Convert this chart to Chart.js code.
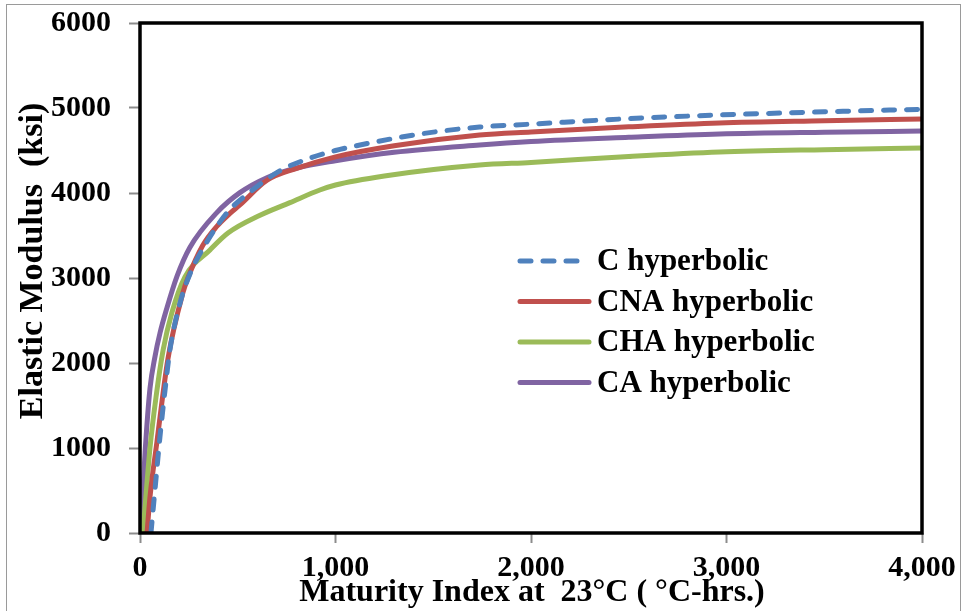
<!DOCTYPE html>
<html lang="en">
<head>
    <meta charset="UTF-8" />
    <title>Elastic Modulus vs Maturity Index</title>
    <script src="https://cdn.jsdelivr.net/npm/chart.js"></script>
    <style>
        html, body { margin: 0; padding: 0; background: #fff; }
        #wrap { width: 967px; height: 611px; }
    </style>
</head>
<body>
    <div id="wrap"><canvas id="modulusChart" width="967" height="611"></canvas></div>

    <script>
        // values
        const seriesLabels = ['C hyperbolic', 'CNA hyperbolic', 'CHA hyperbolic', 'CA hyperbolic'];

        const cX   = [56, 77, 102, 128, 153, 204, 256, 342, 450, 562, 715, 850, 1000, 1175, 1450, 1737, 2000, 2500, 2964, 3500, 4000];
        const cE   = [0, 520, 1130, 1680, 2150, 2700, 3050, 3424, 3780, 4010, 4260, 4395, 4500, 4588, 4700, 4776, 4810, 4875, 4918, 4955, 4985];

        const cnaX = [36, 51, 87, 143, 220, 245, 320, 390, 460, 511, 650, 802, 1000, 1300, 1737, 2000, 2500, 2964, 3500, 4000];
        const cnaE = [0, 420, 1080, 2050, 2830, 3000, 3380, 3600, 3760, 3860, 4150, 4290, 4425, 4556, 4682, 4718, 4778, 4824, 4850, 4871];

        const chaX = [15, 31, 51, 82, 118, 164, 230, 358, 450, 614, 767, 920, 1000, 1250, 1737, 2000, 2500, 2964, 3500, 4000];
        const chaE = [0, 450, 1000, 1600, 2150, 2600, 3012, 3330, 3529, 3738, 3887, 4035, 4094, 4200, 4329, 4360, 4430, 4482, 4510, 4529];

        const caX  = [3, 26, 51, 77, 102, 138, 189, 255, 393, 511, 649, 802, 1000, 1300, 1737, 2000, 2500, 2964, 3500, 4000];
        const caE  = [0, 950, 1700, 2080, 2350, 2650, 3019, 3359, 3769, 4004, 4180, 4294, 4380, 4480, 4565, 4605, 4655, 4694, 4715, 4729];

        const xTicks = [0, 1000, 2000, 3000, 4000];
        const yTicks = [0, 1000, 2000, 3000, 4000, 5000, 6000];

        const serif = '"Liberation Serif", "Times New Roman", serif';
        const toPoints = (xs, ys) => xs.map((x, i) => ({ x: x, y: ys[i] }));

        function lineSet(label, xs, ys, color, dash) {
            return {
                label: label,
                data: toPoints(xs, ys),
                borderColor: color,
                backgroundColor: color,
                borderWidth: 5,
                borderDash: dash || [],
                borderCapStyle: 'round',
                borderJoinStyle: 'round',
                pointRadius: 0,
                cubicInterpolationMode: 'monotone',
                fill: false
            };
        }

        // outer grey frame + black plot border
        const framePlugin = {
            id: 'frame',
            beforeDraw(chart) {
                const ctx = chart.ctx;
                ctx.save();
                ctx.strokeStyle = '#9a9a9a';
                ctx.lineWidth = 1;
                ctx.strokeRect(6.5, 4.5, 954, 620);
                ctx.restore();
            },
            afterDatasetsDraw(chart) {
                const a = chart.chartArea;
                const ctx = chart.ctx;
                ctx.save();
                ctx.strokeStyle = '#000';
                ctx.lineWidth = 3.5;
                ctx.strokeRect(a.left, a.top, a.right - a.left, a.bottom - a.top);
                ctx.restore();
            }
        };

        // legend sits inside the plot, so draw it by hand from the datasets
        const insideLegend = {
            id: 'insideLegend',
            afterDraw(chart) {
                const ctx = chart.ctx;
                chart.data.datasets.forEach((ds, i) => {
                    const y = 261 + i * 40.5;
                    ctx.save();
                    ctx.strokeStyle = ds.borderColor;
                    ctx.lineWidth = ds.borderWidth;
                    ctx.lineCap = 'round';
                    ctx.setLineDash(ds.borderDash);
                    ctx.beginPath();
                    ctx.moveTo(520, y);
                    ctx.lineTo(589, y);
                    ctx.stroke();
                    ctx.setLineDash([]);
                    ctx.fillStyle = '#000';
                    ctx.font = 'bold 31px ' + serif;
                    ctx.textBaseline = 'middle';
                    ctx.fillText(ds.label, 597, y + 1);
                    ctx.restore();
                });
            }
        };

        const axisTitles = {
            id: 'axisTitles',
            afterDraw(chart) {
                const ctx = chart.ctx;
                ctx.save();
                ctx.fillStyle = '#000';
                ctx.textAlign = 'center';
                ctx.textBaseline = 'alphabetic';
                ctx.font = 'bold 32px ' + serif;
                ctx.fillText('Maturity Index at  23°C ( °C-hrs.)', 532, 601);
                ctx.translate(33, 261);
                ctx.rotate(-Math.PI / 2);
                ctx.textBaseline = 'middle';
                ctx.font = 'bold 34px ' + serif;
                ctx.fillText('Elastic Modulus  (ksi)', 0, 0);
                ctx.restore();
            }
        };

        const tickFont = { family: serif, size: 30, weight: 'bold' };

        new Chart(document.getElementById('modulusChart').getContext('2d'), {
            type: 'line',
            data: {
                datasets: [
                    lineSet(seriesLabels[0], cX, cE, '#4F81BD', [11, 12]),
                    lineSet(seriesLabels[1], cnaX, cnaE, '#C0504D'),
                    lineSet(seriesLabels[2], chaX, chaE, '#9BBB59'),
                    lineSet(seriesLabels[3], caX, caE, '#8064A2')
                ]
            },
            options: {
                responsive: false,
                animation: false,
                devicePixelRatio: 1,
                layout: { padding: { top: 23, right: 45, left: 0, bottom: 0 } },
                plugins: {
                    legend: { display: false },
                    tooltip: { enabled: false }
                },
                scales: {
                    x: {
                        type: 'linear',
                        min: xTicks[0],
                        max: xTicks[xTicks.length - 1],
                        afterBuildTicks: s => { s.ticks = xTicks.map(v => ({ value: v })); },
                        afterFit: s => { s.height = 78; s.paddingLeft = 0; s.paddingRight = 0; },
                        ticks: {
                            color: '#000',
                            font: tickFont,
                            padding: 7,
                            maxRotation: 0,
                            callback: v => v.toLocaleString('en-US')
                        },
                        grid: { drawOnChartArea: false, tickLength: 10, tickColor: '#8c8c8c', tickWidth: 2 },
                        border: { display: false }
                    },
                    y: {
                        min: yTicks[0],
                        max: yTicks[yTicks.length - 1],
                        afterBuildTicks: s => { s.ticks = yTicks.map(v => ({ value: v })); },
                        afterFit: s => { s.width = 140; s.paddingTop = 0; s.paddingBottom = 0; },
                        ticks: {
                            color: '#000',
                            font: tickFont,
                            padding: 18,
                            callback: v => String(v)
                        },
                        grid: { drawOnChartArea: false, tickLength: 11, tickColor: '#8c8c8c', tickWidth: 2 },
                        border: { display: false }
                    }
                }
            },
            plugins: [framePlugin, insideLegend, axisTitles]
        });
    </script>
</body>
</html>
